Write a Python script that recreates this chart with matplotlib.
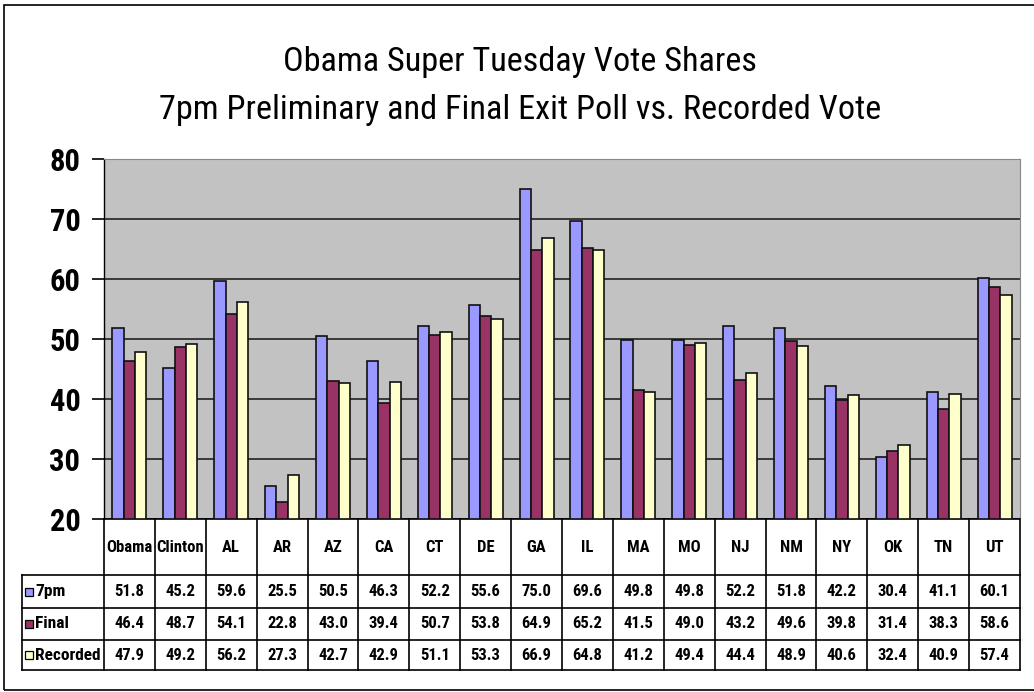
import matplotlib.pyplot as plt
from matplotlib.patches import Rectangle
from matplotlib.transforms import blended_transform_factory

# narrow grotesque to stand in for Arial Narrow
plt.rcParams['font.family'] = ['Liberation Sans Narrow', 'Arial Narrow', 'Roboto Condensed',
                               'Archivo Narrow', 'PT Sans Narrow', 'Liberation Sans', 'DejaVu Sans']

states = ['Obama', 'Clinton', 'AL', 'AR', 'AZ', 'CA', 'CT', 'DE', 'GA', 'IL',
          'MA', 'MO', 'NJ', 'NM', 'NY', 'OK', 'TN', 'UT']
pm7 = [51.8, 45.2, 59.6, 25.5, 50.5, 46.3, 52.2, 55.6, 75.0, 69.6,
       49.8, 49.8, 52.2, 51.8, 42.2, 30.4, 41.1, 60.1]
final = [46.4, 48.7, 54.1, 22.8, 43.0, 39.4, 50.7, 53.8, 64.9, 65.2,
         41.5, 49.0, 43.2, 49.6, 39.8, 31.4, 38.3, 58.6]
recorded = [47.9, 49.2, 56.2, 27.3, 42.7, 42.9, 51.1, 53.3, 66.9, 64.8,
            41.2, 49.4, 44.4, 48.9, 40.6, 32.4, 40.9, 57.4]

series = [('7pm', pm7, '#9999FF'),
          ('Final', final, '#993366'),
          ('Recorded', recorded, '#FFFFCC')]

W, H = 1034, 692
fig = plt.figure(figsize=(W / 100, H / 100), dpi=100)
fig.patch.set_facecolor('white')

# outer chart frame
fig.add_artist(Rectangle((4 / W, 1 - 690 / H), 1.2, (690 - 5) / H,
                         transform=fig.transFigure, fill=False,
                         edgecolor='black', linewidth=1.2))

left, right, top, bottom = 104, 1020, 159, 519
ax = fig.add_axes([left / W, 1 - bottom / H, (right - left) / W, (bottom - top) / H])
ax.set_facecolor('#C2C2C2')

n = len(states)
x = list(range(n))
bw = 1 / 4.5
for i, (name, vals, col) in enumerate(series):
    ax.bar([xi + (i - 1) * bw for xi in x], [v - 20 for v in vals], bottom=20,
           width=bw, color=col, edgecolor='#111111', linewidth=1.2, zorder=3)

ax.set_xlim(-0.5, n - 0.5)
ax.set_ylim(20, 80)
ax.set_yticks(range(20, 81, 10))
ax.yaxis.grid(True, color='#222222', linewidth=1.2, zorder=1)
ax.set_axisbelow(True)
ax.set_xticks([])
ax.tick_params(axis='y', length=9, width=1.2, labelsize=22, pad=8)
for lbl in ax.get_yticklabels():
    lbl.set_fontweight('bold')
for s in ['top', 'right']:
    ax.spines[s].set_color('#888888')
ax.spines['left'].set_linewidth(1.0)
ax.spines['bottom'].set_linewidth(1.2)

fig.text(0.503, 1 - 62 / H, 'Obama Super Tuesday Vote Shares',
         ha='center', va='center', fontsize=24.7)
fig.text(0.503, 1 - 110 / H, '7pm Preliminary and Final Exit Poll vs. Recorded Vote',
         ha='center', va='center', fontsize=24.7)

# data table under the plot
tr = blended_transform_factory(ax.transData, ax.transAxes)
ph = bottom - top
def ay(py):
    return (bottom - py) / ph

hdr_b = ay(575)
rows = [ay(575), ay(608), ay(640), ay(670)]
xlab = -0.5 - (left - 22) * n / (right - left)
lw = 1.2
# horizontal lines
for yy in rows:
    ax.plot([xlab, n - 0.5], [yy, yy], color='black', lw=lw, transform=tr, clip_on=False)
# vertical lines
for k in range(n + 1):
    ax.plot([k - 0.5, k - 0.5], [0, rows[-1]], color='black', lw=lw, transform=tr, clip_on=False)
ax.plot([xlab, xlab], [rows[0], rows[-1]], color='black', lw=lw, transform=tr, clip_on=False)

for k, s in enumerate(states):
    ax.text(k, (0 + hdr_b) / 2, s, transform=tr, ha='center', va='center',
            fontsize=12, fontweight='bold')

for r, (name, vals, col) in enumerate(series):
    yc = (rows[r] + rows[r + 1]) / 2
    for k, v in enumerate(vals):
        ax.text(k, yc, f'{v:.1f}', transform=tr, ha='center', va='center',
                fontsize=12, fontweight='bold')
    sq = 8 * n / (right - left)
    ax.add_patch(Rectangle((xlab + 3 * n / (right - left), yc - 4 / ph), sq, 8 / ph,
                           transform=tr, facecolor=col, edgecolor='black',
                           linewidth=0.9, clip_on=False))
    ax.text(xlab + 13 * n / (right - left), yc, name, transform=tr, ha='left',
            va='center', fontsize=12.5, fontweight='bold')

fig.savefig('out.png', dpi=100)
